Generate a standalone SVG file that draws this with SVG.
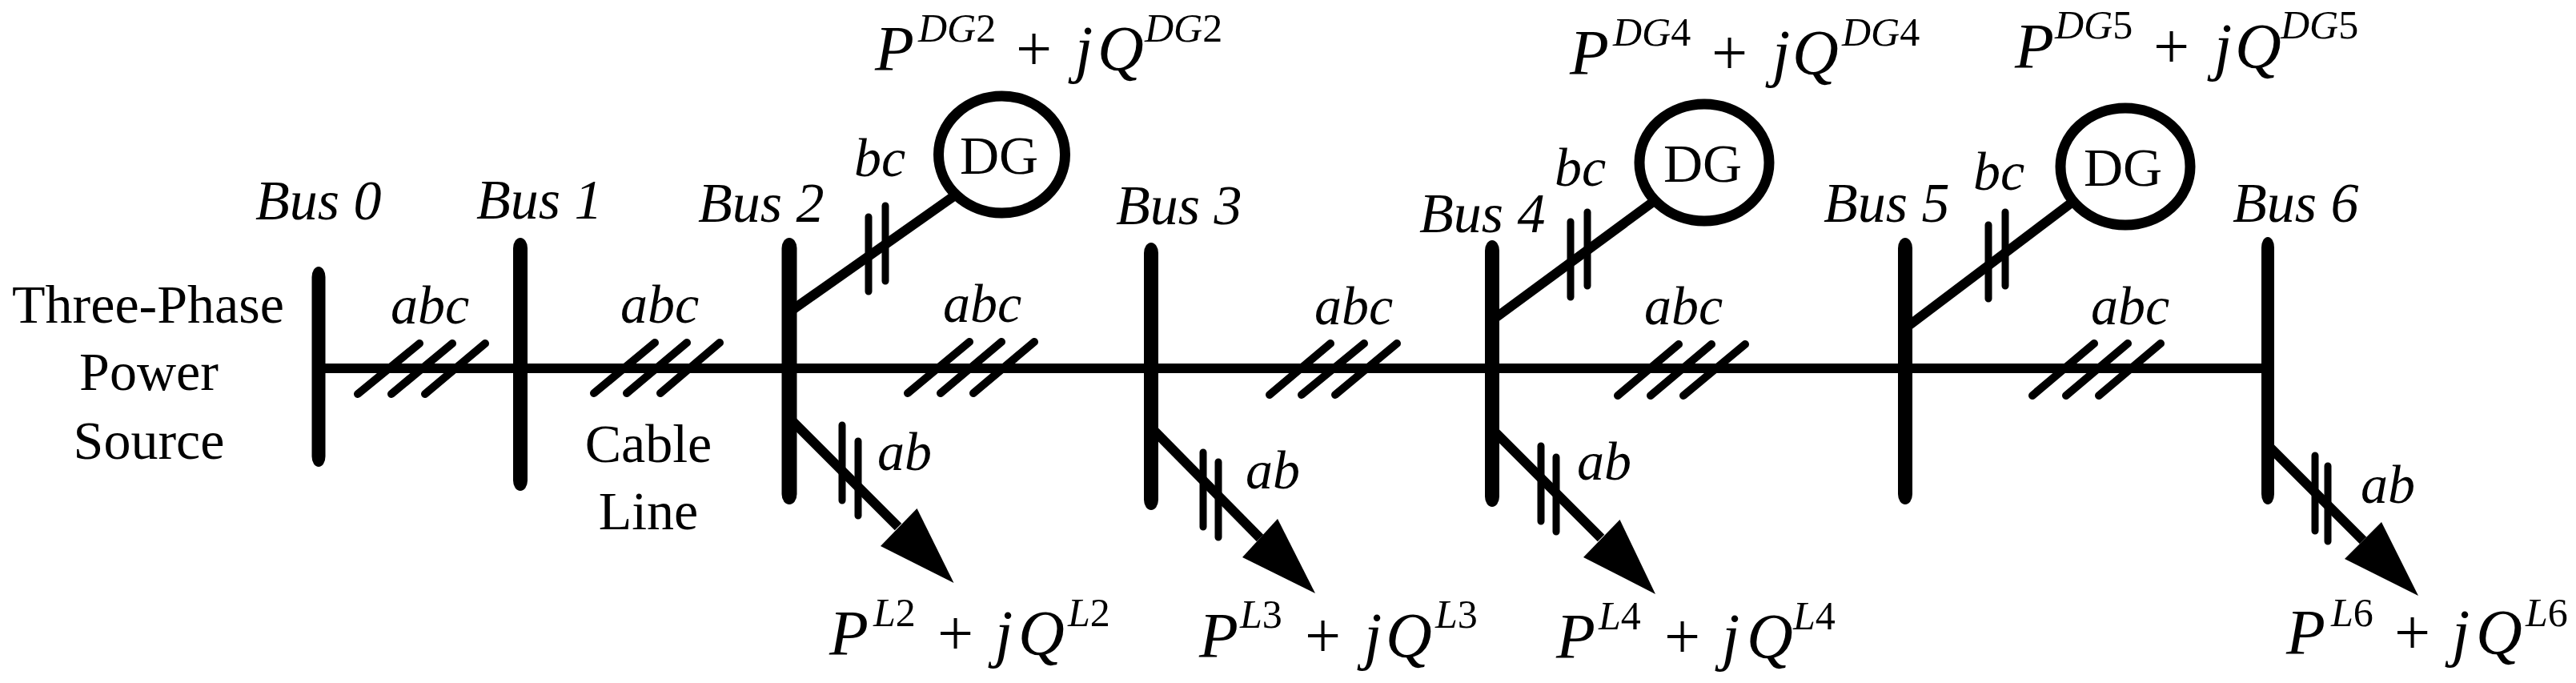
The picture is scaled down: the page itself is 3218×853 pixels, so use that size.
<svg xmlns="http://www.w3.org/2000/svg" width="3218" height="853" viewBox="0 0 3218 853">
<style>
text{font-family:"Liberation Serif","Times New Roman",serif;fill:#000}
.lb{font-size:70px;font-style:italic}
.ph{font-size:68px;font-style:italic}
.pl{font-size:68px;text-anchor:middle}
.eq{font-size:80px;font-style:italic}
.sup{font-size:50px}
.sub{font-style:normal}
.wire{stroke:#000;stroke-width:12;fill:none}
.hatch{stroke:#000;stroke-width:10;stroke-linecap:round;fill:none}
.tick{stroke:#000;stroke-width:9;stroke-linecap:round;fill:none}
.bus{fill:#000}
.ring{fill:none;stroke:#000;stroke-width:13}
.head{fill:#000}
</style>
<rect width="3218" height="853" fill="#fff"/>
<g id="connectors">
<line class="wire" x1="398" y1="460" x2="650" y2="460"/>
<line class="wire" x1="650" y1="460" x2="986" y2="460"/>
<line class="wire" x1="986" y1="460" x2="1438" y2="460"/>
<line class="wire" x1="1438" y1="460" x2="1864" y2="460"/>
<line class="wire" x1="1864" y1="460" x2="2380" y2="460"/>
<line class="wire" x1="2380" y1="460" x2="2833" y2="460"/>
<line class="wire" x1="987" y1="389" x2="1193" y2="244"/>
<line class="wire" x1="1864" y1="400" x2="2072" y2="247"/>
<line class="wire" x1="2380" y1="410" x2="2592" y2="250"/>
<line class="wire" x1="987" y1="523" x2="1122" y2="658"/>
<line class="wire" x1="1438" y1="534" x2="1574" y2="672"/>
<line class="wire" x1="1864" y1="536" x2="2000" y2="672"/>
<line class="wire" x1="2833" y1="556" x2="2952" y2="675"/>
<g id="hatches">
<path class="hatch" d="M447 492L524 429M489 492L565 429M531 492L606 429"/>
<path class="hatch" d="M742 491L818 428M783 491L858 428M825 491L899 428"/>
<path class="hatch" d="M1134 491L1211 427M1175 491L1251 427M1216 491L1292 427"/>
<path class="hatch" d="M1586 493L1662 429M1626 493L1704 429M1668 493L1745 429"/>
<path class="hatch" d="M2021 494L2097 430M2062 494L2138 430M2103 494L2180 430"/>
<path class="hatch" d="M2539 494L2616 429M2581 494L2658 429M2622 494L2699 429"/>
</g>
<g id="ticks">
<path class="tick" d="M1085 271V364M1106 257V351"/>
<path class="tick" d="M1962 277V371M1983 265V357"/>
<path class="tick" d="M2484 281V373M2505 265V357"/>
<path class="tick" d="M1052 531V625M1072 551V644"/>
<path class="tick" d="M1503 565V658M1522 577V671"/>
<path class="tick" d="M1925 557V651M1944 571V664"/>
<path class="tick" d="M2892 569V663M2908 582V676"/>
</g>
</g>
<g id="bus0"><rect class="bus" x="389.500" y="333" width="17" height="250" rx="8.500" ry="13"/><text class="lb" x="319" y="274">Bus 0</text></g>
<g id="bus1"><rect class="bus" x="641" y="297" width="18" height="316" rx="9" ry="13"/><text class="lb" x="595" y="273">Bus 1</text></g>
<g id="bus2"><rect class="bus" x="976.500" y="297" width="19" height="333" rx="9.500" ry="13"/><text class="lb" x="872" y="277">Bus 2</text></g>
<g id="bus3"><rect class="bus" x="1429" y="303" width="18" height="334" rx="9" ry="13"/><text class="lb" x="1394" y="280">Bus 3</text></g>
<g id="bus4"><rect class="bus" x="1855" y="300" width="18" height="333" rx="9" ry="13"/><text class="lb" x="1773" y="290">Bus 4</text></g>
<g id="bus5"><rect class="bus" x="2371" y="297" width="18" height="333" rx="9" ry="13"/><text class="lb" x="2278" y="277">Bus 5</text></g>
<g id="bus6"><rect class="bus" x="2825" y="296" width="16" height="334" rx="8" ry="13"/><text class="lb" x="2789" y="277">Bus 6</text></g>
<g id="dg2"><ellipse class="ring" cx="1251.500" cy="193" rx="79" ry="73"/><text x="1199" y="217" font-size="68">DG</text></g>
<g id="dg4"><ellipse class="ring" cx="2129" cy="203" rx="81" ry="73"/><text x="2078" y="227" font-size="68">DG</text></g>
<g id="dg5"><ellipse class="ring" cx="2655" cy="208" rx="81" ry="73"/><text x="2603" y="232" font-size="68">DG</text></g>
<g id="source"><text class="pl" x="185" y="403">Three-Phase</text><text class="pl" x="186" y="487">Power</text><text class="pl" x="186" y="573">Source</text></g>
<g id="cable"><text class="pl" x="810" y="577">Cable</text><text class="pl" x="810" y="661">Line</text></g>
<g id="phase-labels">
<text class="ph" x="488" y="404">abc</text>
<text class="ph" x="775" y="403">abc</text>
<text class="ph" x="1178" y="402">abc</text>
<text class="ph" x="1642" y="405">abc</text>
<text class="ph" x="2054" y="405">abc</text>
<text class="ph" x="2612" y="405">abc</text>
<text class="ph" x="1067" y="220">bc</text>
<text class="ph" x="1942" y="232">bc</text>
<text class="ph" x="2465" y="237">bc</text>
<text class="ph" x="1096" y="587">ab</text>
<text class="ph" x="1556" y="610">ab</text>
<text class="ph" x="1970" y="599">ab</text>
<text class="ph" x="2949" y="628">ab</text>
</g>
<g id="load2"><polygon class="head" points="1191.500,728 1145.500,635 1100,682"/>
<text class="eq" x="1036" y="818">P<tspan class="sup" x="1091" y="782">L<tspan class="sub">2</tspan></tspan><tspan class="sub" x="1171" y="818">+</tspan><tspan x="1243" y="818">j</tspan><tspan x="1272" y="818">Q</tspan><tspan class="sup" x="1334" y="782">L<tspan class="sub">2</tspan></tspan></text></g>
<g id="load3"><polygon class="head" points="1643,741 1596,648 1552,696"/>
<text class="eq" x="1498" y="821">P<tspan class="sup" x="1549" y="784">L<tspan class="sub">3</tspan></tspan><tspan class="sub" x="1630" y="821">+</tspan><tspan x="1704" y="821">j</tspan><tspan x="1731" y="821">Q</tspan><tspan class="sup" x="1793" y="784">L<tspan class="sub">3</tspan></tspan></text></g>
<g id="load4"><polygon class="head" points="2068,742 2023.500,649 1978,696"/>
<text class="eq" x="1944" y="822">P<tspan class="sup" x="1997" y="786">L<tspan class="sub">4</tspan></tspan><tspan class="sub" x="2079" y="822">+</tspan><tspan x="2151" y="822">j</tspan><tspan x="2182" y="822">Q</tspan><tspan class="sup" x="2240" y="786">L<tspan class="sub">4</tspan></tspan></text></g>
<g id="load6"><polygon class="head" points="3021,744 2975,652 2929,698"/>
<text class="eq" x="2856" y="817">P<tspan class="sup" x="2912" y="782">L<tspan class="sub">6</tspan></tspan><tspan class="sub" x="2991" y="817">+</tspan><tspan x="3063" y="817">j</tspan><tspan x="3093" y="817">Q</tspan><tspan class="sup" x="3155" y="782">L<tspan class="sub">6</tspan></tspan></text></g>
<g id="power2"><text class="eq" x="1093" y="88">P<tspan class="sup" x="1147" y="52">DG<tspan class="sub">2</tspan></tspan><tspan class="sub" x="1269" y="88">+</tspan><tspan x="1343" y="88">j</tspan><tspan x="1371" y="88">Q</tspan><tspan class="sup" x="1430" y="52">DG<tspan class="sub">2</tspan></tspan></text></g>
<g id="power4"><text class="eq" x="1961" y="93">P<tspan class="sup" x="2015" y="57">DG<tspan class="sub">4</tspan></tspan><tspan class="sub" x="2138" y="93">+</tspan><tspan x="2214" y="93">j</tspan><tspan x="2239" y="93">Q</tspan><tspan class="sup" x="2301" y="57">DG<tspan class="sub">4</tspan></tspan></text></g>
<g id="power5"><text class="eq" x="2517" y="85">P<tspan class="sup" x="2567" y="48">DG<tspan class="sub">5</tspan></tspan><tspan class="sub" x="2690" y="85">+</tspan><tspan x="2766" y="85">j</tspan><tspan x="2792" y="85">Q</tspan><tspan class="sup" x="2849" y="48">DG<tspan class="sub">5</tspan></tspan></text></g>
</svg>
